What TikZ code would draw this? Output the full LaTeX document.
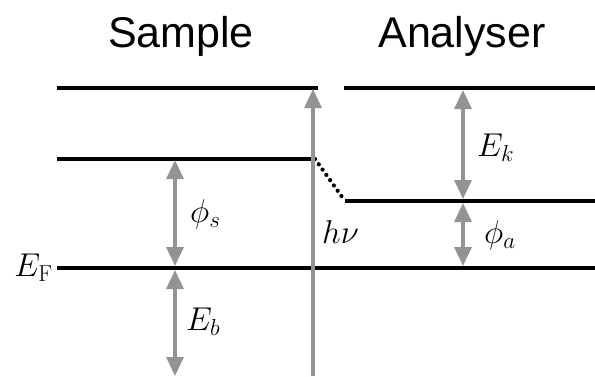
\RequirePackage{fix-cm}
\documentclass[tikz,border=0pt]{standalone}
\usepackage{fontspec}
\newfontfamily\titlefont{Liberation Sans}
\usepackage{amsmath}
\usepackage{tikz}
\usetikzlibrary{positioning, calc, arrows.meta}

\begin{document}
\begin{tikzpicture}[
    x=1pt, y=-1pt,
    level/.style={line width=3.2pt, black},
    gap/.style={line width=4.2pt, dash pattern=on 0pt off 6.5pt, line cap=round},
    arw/.style={{Triangle[length=19pt, width=17pt]}-{Triangle[length=19pt, width=17pt]},
                line width=3.2pt, draw=gray!85},
    uparw/.style={-{Triangle[length=19pt, width=17pt]}, line width=3.2pt, draw=gray!85},
    title/.style={font=\titlefont\fontsize{43}{50}\selectfont, anchor=base},
    lbl/.style={font=\fontsize{33}{40}\selectfont, inner sep=0pt},
]
\useasboundingbox (0,0) rectangle (595,376);

% --- Titles ---
\node[title] (sample) at (181, 47) {Sample};
\node[title] (analyser) at (462, 47) {Analyser};

% --- Sample levels ---
\coordinate (svacL) at (57, 159);
\coordinate (svacR) at (315, 159);
\coordinate (topL) at (57, 88);
\coordinate (topM) at (318, 88);
\coordinate (efL) at (57, 268);
\coordinate (efR) at (595, 268);
\draw[level] (topL) -- (topM);
\draw[level] (svacL) -- (svacR);
\draw[level] (efL) -- (efR);

% --- Analyser levels ---
\coordinate (topA) at (344, 88);
\coordinate (topR) at (595, 88);
\coordinate (avacL) at (345, 201);
\coordinate (avacR) at (595, 201);
\draw[level] (topA) -- (topR);
\draw[level] (avacL) -- (avacR);
\draw[gap] (svacR) -- (avacL);

% --- Fermi label ---
\node[lbl, left=4pt of efL] (ef) {$E_{\mathrm{F}}$};

% --- Photon ---
\coordinate (hvbot) at (313, 376);
\coordinate (hvtop) at (313, 89);
\draw[uparw] (hvbot) -- (hvtop);
\node[lbl, anchor=west] (hv) at (322, 232) {$h\nu$};

% --- Sample arrows ---
\coordinate (phisT) at (175, 160);
\coordinate (phisB) at (175, 266);
\coordinate (ebT) at (175, 270);
\coordinate (ebB) at (175, 376);
\draw[arw] (phisT) -- (phisB);
\draw[arw] (ebT) -- (ebB);
\node[lbl, anchor=west] (phis) at (190, 214) {$\phi_s$};
\node[lbl, anchor=west] (eb) at (186, 322) {$E_b$};

% --- Analyser arrows ---
\coordinate (ekT) at (463, 90);
\coordinate (ekB) at (463, 199);
\coordinate (phiaT) at (463, 203);
\coordinate (phiaB) at (463, 266);
\draw[arw] (ekT) -- (ekB);
\draw[arw] (phiaT) -- (phiaB);
\node[lbl, anchor=west] (ek) at (477, 148) {$E_k$};
\node[lbl, anchor=west] (phia) at (484, 235) {$\phi_a$};
\end{tikzpicture}
\end{document}
